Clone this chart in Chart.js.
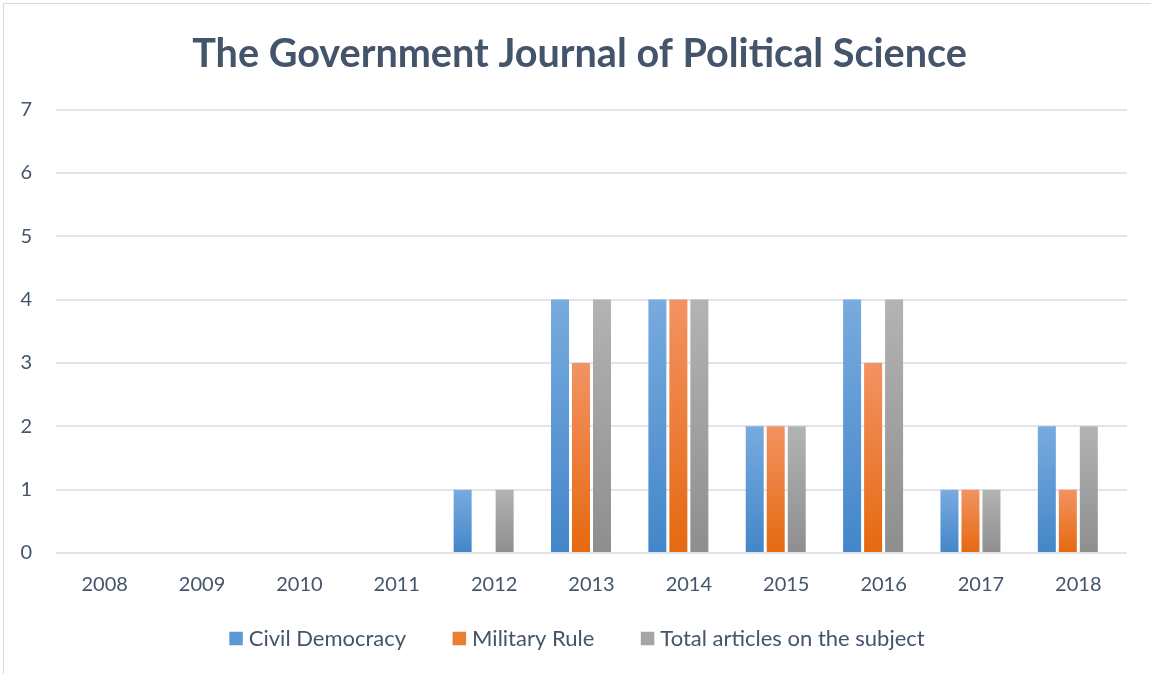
<!DOCTYPE html>
<html><head><meta charset="utf-8">
<script src="https://cdn.jsdelivr.net/npm/chart.js@4.4.0/dist/chart.umd.min.js"></script>
<style>
html,body{margin:0;padding:0;background:#fff;overflow:hidden}
#frame{position:absolute;left:3px;top:3px;width:1160px;height:700px;border-left:1px solid #d9d9d9;border-top:1px solid #d9d9d9}
#wrap{position:absolute;left:0;top:0;width:1151px;height:674px}
</style></head>
<body>
<div id="frame"></div>
<div id="wrap"><canvas id="c" width="1151" height="674"></canvas></div>
<script>
const categories = ['2008','2009','2010','2011','2012','2013','2014','2015','2016','2017','2018'];
const civilDemocracy = [0,0,0,0,1,4,4,2,4,1,2];
const militaryRule = [0,0,0,0,0,3,4,2,3,1,1];
const totalArticles = [0,0,0,0,1,4,4,2,4,1,2];
// empty fourth series slot (as in the source workbook) which pushes the clusters left of the labels
const emptySeries = [null,null,null,null,null,null,null,null,null,null,null];
const seriesNames = ['Civil Democracy','Military Rule','Total articles on the subject',''];
const yTicks = [0,1,2,3,4,5,6,7];

const grads = [
  ['#78abdf','#4386c9','#5b9bd5'],
  ['#f39262','#e5690f','#ed7d31'],
  ['#b3b3b3','#8e8e8e','#a5a5a5'],
  ['#ffffff','#ffffff','rgba(0,0,0,0)']
];
function gradFill(idx){
  return function(ctx){
    const chart = ctx.chart;
    if(!chart.chartArea || ctx.type !== 'data') return grads[idx][2];
    const v = ctx.parsed ? ctx.parsed.y : 0;
    const ys = chart.scales.y;
    const top = ys.getPixelForValue(v), base = ys.getPixelForValue(0);
    if(!(base - top > 0.5)) return grads[idx][2];
    const g = chart.ctx.createLinearGradient(0, top, 0, base);
    g.addColorStop(0, grads[idx][0]);
    g.addColorStop(1, grads[idx][1]);
    return g;
  };
}
const textColor = '#44546a';
const fontFam = 'Lato, "Open Sans", sans-serif';

new Chart(document.getElementById('c'), {
  type: 'bar',
  data: {
    labels: categories,
    datasets: [civilDemocracy, militaryRule, totalArticles, emptySeries].map((d,i)=>({
      label: seriesNames[i],
      data: d,
      backgroundColor: gradFill(i),
      borderWidth: 0,
      categoryPercentage: 0.8625,
      barPercentage: 0.857
    }))
  },
  options: {
    responsive: false,
    animation: false,
    devicePixelRatio: 1,
    layout: { padding: { left: 8, right: 0, top: 0, bottom: 14.5 } },
    plugins: {
      tooltip: { enabled: false },
      title: {
        display: true,
        text: 'The Government Journal of Political Science',
        color: textColor,
        font: { family: fontFam, size: 39.6, weight: 'bold' },
        padding: { top: 30, bottom: 32 }
      },
      legend: {
        position: 'bottom',
        labels: {
          color: textColor,
          font: { family: fontFam, size: 22 },
          usePointStyle: true,
          boxWidth: 3.5, boxHeight: 13.5,
          padding: 51.5,
          generateLabels: function(chart){
            return chart.data.datasets.slice(0,3).map((ds,i)=>({
              text: ds.label, fillStyle: grads[i][2], strokeStyle: grads[i][2],
              pointStyle: 'rect', lineWidth: 0, datasetIndex: i, fontColor: textColor
            }));
          }
        }
      }
    },
    scales: {
      x: {
        grid: { display: false, drawTicks: false },
        border: { display: false },
        afterFit: function(s){ s.height = 23; },
        ticks: { color: textColor, font: { family: fontFam, size: 20 }, padding: -43.5, mirror: true }
      },
      y: {
        min: 0, max: 7,
        afterBuildTicks: function(s){ s.ticks = yTicks.map(v=>({value:v})); },
        afterFit: function(s){ s.width = 48; },
        grid: { color: '#e1e5eb', lineWidth: 2, drawTicks: false },
        border: { display: false },
        ticks: { color: textColor, font: { family: fontFam, size: 20 }, padding: 24, stepSize: 1 }
      },
      yr: {
        type: 'linear',
        position: 'right',
        grid: { display: false, drawTicks: false },
        border: { display: false },
        ticks: { display: false },
        afterFit: function(s){ s.width = 24; }
      }
    }
  }
});
</script>
</body></html>
